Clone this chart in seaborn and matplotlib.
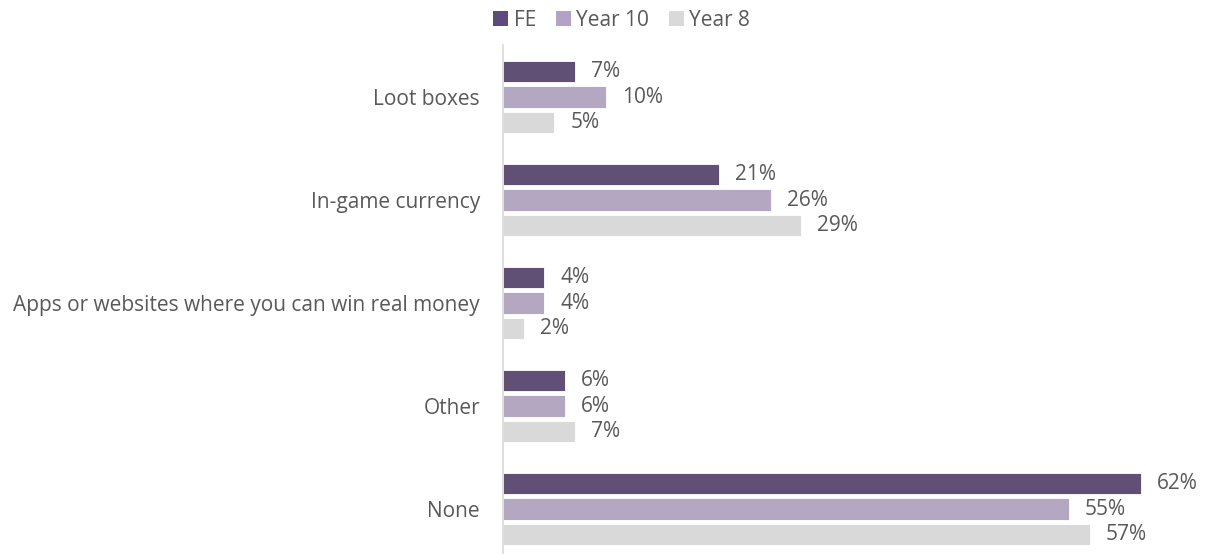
import matplotlib
matplotlib.use("Agg")
import matplotlib.pyplot as plt
import seaborn as sns
import pandas as pd
from matplotlib.patches import Patch

categories = ["Loot boxes", "In-game currency", "Apps or websites where you can win real money", "Other", "None"]
series_names = ["FE", "Year 10", "Year 8"]
fe_values = [7, 21, 4, 6, 62]
year10_values = [10, 26, 4, 6, 55]
year8_values = [5, 29, 2, 7, 57]
colors = ["#604A7B", "#B3A2C7", "#D9D9D9"]

rows = []
for name, vals in zip(series_names, [fe_values, year10_values, year8_values]):
    for cat, v in zip(categories, vals):
        rows.append({"category": cat, "group": name, "value": v})
df = pd.DataFrame(rows)

sns.set_theme(style="white")
plt.rcParams["font.family"] = ["Open Sans", "DejaVu Sans"]
text_color = "#595959"
fs = 15

fig = plt.figure(figsize=(12.07, 5.58), dpi=100)
ax = fig.add_axes([503 / 1207, 1 - 553 / 558, 1 - 503 / 1207, (553 - 45) / 558])

sns.barplot(data=df, y="category", x="value", hue="group", order=categories,
            hue_order=series_names, palette=colors, orient="h",
            width=0.745, gap=0.17, edgecolor="white", linewidth=0.6,
            legend=False, ax=ax)

ax.set_xlim(0, 68.4)
ax.set_ylim(4.427, -0.505)
ax.set_xlabel("")
ax.set_ylabel("")
ax.set_xticks([])
for s in ["top", "right", "bottom"]:
    ax.spines[s].set_visible(False)
ax.spines["left"].set_color("#D9D9D9")
ax.spines["left"].set_linewidth(1.2)
ax.tick_params(axis="y", length=0, pad=16.5, labelsize=fs, labelcolor=text_color)

for container in ax.containers:
    ax.bar_label(container, labels=[f"{int(round(b.get_width()))}%" for b in container],
                 padding=11.5, fontsize=fs, color=text_color)

handles = [Patch(facecolor=c, edgecolor="none") for c in colors]
fig.legend(handles, series_names, loc="center", bbox_to_anchor=(0.515, 1 - 20 / 558),
           ncol=3, frameon=False, fontsize=fs, labelcolor=text_color,
           handlelength=0.72, handleheight=0.72, handletextpad=0.25, columnspacing=0.95)

fig.savefig("out.png", dpi=100)
